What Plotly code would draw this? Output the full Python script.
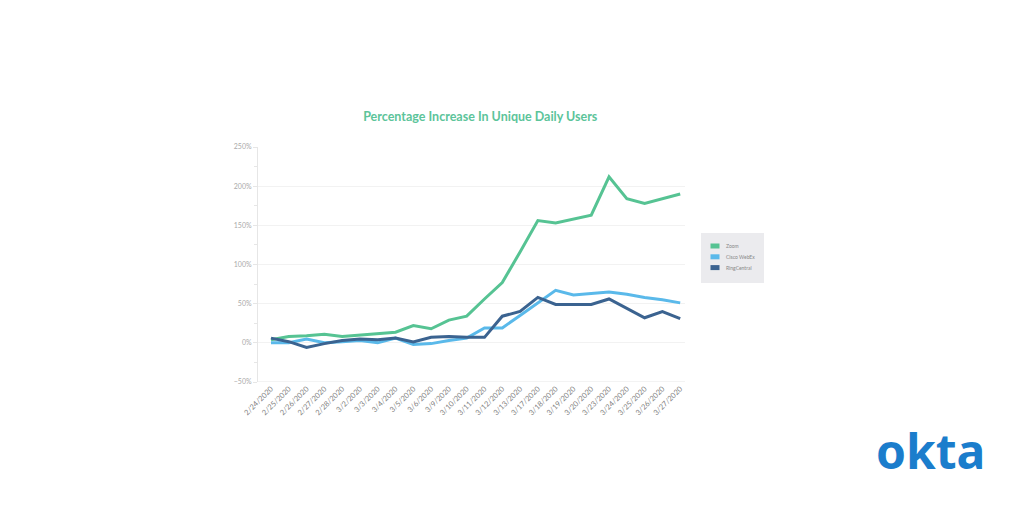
import plotly.graph_objects as go

dates = ['2/24/2020', '2/25/2020', '2/26/2020', '2/27/2020', '2/28/2020', '3/2/2020',
         '3/3/2020', '3/4/2020', '3/5/2020', '3/6/2020', '3/9/2020', '3/10/2020',
         '3/11/2020', '3/12/2020', '3/13/2020', '3/17/2020', '3/18/2020', '3/19/2020',
         '3/20/2020', '3/23/2020', '3/24/2020', '3/25/2020', '3/26/2020', '3/27/2020']

zoom = [4, 8, 9, 11, 8, 10, 12, 13.5, 22, 18, 29, 34,
        56, 77, 116, 156, 153, 158, 163, 212, 184, 178, 184, 190]
webex = [0, 0, 5, 0, 1.5, 3, 0, 6, -2, -1, 3, 6,
         19, 19, 35, 51, 67, 61, 63, 65, 62, 58, 55, 51]
ringcentral = [6, 1.5, -6, -1, 3, 5, 4, 6, 1, 7, 8, 7,
               7, 34, 40, 58, 49, 49, 49, 56, 44, 32, 40, 31]

names = ['Zoom', 'Cisco WebEx', 'RingCentral']
colors = ['#56c393', '#5ab9ea', '#3b6390']
series = [zoom, webex, ringcentral]

# plot area in pixels: x 258..685, y 147..382
def px_x(p):
    return (p - 258) / 427

def px_y(p):
    return (382 - p) / 235

fig = go.Figure()
for name, color, vals in zip(names, colors, series):
    fig.add_trace(go.Scatter(x=dates, y=vals, mode='lines', name=name,
                             line=dict(color=color, width=3), showlegend=False))

# small legend box drawn by hand (plotly's own legend is too roomy)
shapes = [dict(type='rect', xref='paper', yref='paper', x0=px_x(701), x1=px_x(764),
               y0=px_y(233), y1=px_y(283), fillcolor='#ebebee', line=dict(width=0))]
annotations = []
for k, (name, color) in enumerate(zip(names, colors)):
    cy = 246 + k * 10.8
    shapes.append(dict(type='rect', xref='paper', yref='paper', x0=px_x(710.5), x1=px_x(719.5),
                       y0=px_y(cy - 2.5), y1=px_y(cy + 2.5), fillcolor=color, line=dict(width=0)))
    annotations.append(dict(text=name, x=px_x(724), y=px_y(cy), xref='paper', yref='paper',
                            xanchor='left', yanchor='middle', showarrow=False,
                            font=dict(size=5, color='#888')))

annotations.append(dict(text='<b>okta</b>', x=px_x(930), y=px_y(450),
                        xref='paper', yref='paper',
                        xanchor='center', yanchor='middle', showarrow=False,
                        font=dict(size=48, color='#1b7dcc', family='Noto Sans')))

fig.update_layout(
    width=1024, height=512,
    margin=dict(l=258, r=339, t=147, b=130, autoexpand=False),
    paper_bgcolor='white', plot_bgcolor='white',
    font=dict(family='Lato', color='#a8a8a8', size=7),
    title=dict(text='<b>Percentage Increase In Unique Daily Users</b>',
               x=0.469, xanchor='center', y=0.773, yanchor='middle',
               font=dict(size=12.5, color='#5cc49a', family='Lato')),
    showlegend=False,
    shapes=shapes,
    annotations=annotations,
)

fig.update_xaxes(range=[-0.73, 23.27], tickangle=-45, showgrid=False, automargin=False,
                 showline=False, ticks='', tickfont=dict(size=7.5, color='#808080'))
fig.update_yaxes(range=[-50, 250], dtick=50, ticksuffix='%', showgrid=True, automargin=False,
                 gridcolor='#f2f2f2', gridwidth=1, zeroline=False,
                 showline=True, linecolor='#e6e6e6', ticks='outside', ticklen=4,
                 tickcolor='#e6e6e6', minor=dict(dtick=25, ticks='outside', ticklen=3,
                                                  tickcolor='#e6e6e6', showgrid=False),
                 tickfont=dict(size=7, color='#aaa'))
# bottom axis line at -50%
fig.add_hline(y=-50, line=dict(color='#e6e6e6', width=1))

fig.write_html("out.html", config={'displayModeBar': False},
               post_script="document.body.style.margin='0';")
